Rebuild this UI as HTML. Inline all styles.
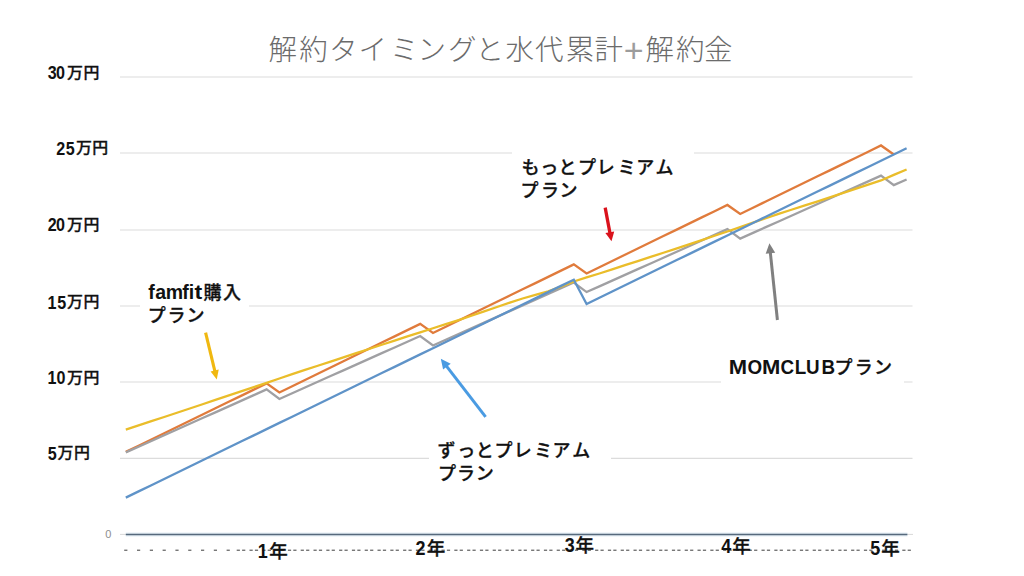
<!DOCTYPE html>
<html><head><meta charset="utf-8">
<style>
html,body{margin:0;padding:0;background:#fff;}
body{width:1024px;height:576px;overflow:hidden;position:relative;}
svg{position:absolute;left:0;top:0;}
</style></head><body>
<svg width="1024" height="576" viewBox="0 0 1024 576">
<rect width="1024" height="576" fill="#fff"/>
<g stroke="#dcdcdc" stroke-width="1.2"><line x1="120" y1="77" x2="912.5" y2="77"/><line x1="120" y1="153" x2="912.5" y2="153"/><line x1="120" y1="230" x2="912.5" y2="230"/><line x1="120" y1="306" x2="912.5" y2="306"/><line x1="120" y1="382" x2="912.5" y2="382"/><line x1="120" y1="458.4" x2="912.5" y2="458.4"/></g>
<line x1="120" y1="534.4" x2="913" y2="534.4" stroke="#d8d8d8" stroke-width="1"/>
<line x1="125.8" y1="534.4" x2="907.4" y2="534.4" stroke="#e4eef5" stroke-width="4"/>
<line x1="125.8" y1="534.4" x2="907.4" y2="534.4" stroke="#56697c" stroke-width="1.5"/>
<g fill="#6a6a6a"><rect x="124.2" y="549.6" width="3.2" height="1.3"/><rect x="137.0" y="549.6" width="3.2" height="1.3"/><rect x="149.8" y="549.6" width="3.2" height="1.3"/><rect x="162.6" y="549.6" width="3.2" height="1.3"/><rect x="175.4" y="549.6" width="3.2" height="1.3"/><rect x="188.2" y="549.6" width="3.2" height="1.3"/><rect x="201.0" y="549.6" width="3.2" height="1.3"/><rect x="213.8" y="549.6" width="3.2" height="1.3"/><rect x="226.6" y="549.6" width="3.2" height="1.3"/><rect x="236.7" y="549.6" width="3.2" height="1.3"/><rect x="242.1" y="549.6" width="3.2" height="1.3"/><rect x="249.5" y="549.6" width="3.2" height="1.3"/><rect x="254.9" y="549.6" width="3.2" height="1.3"/><rect x="262.3" y="549.6" width="3.2" height="1.3"/><rect x="267.7" y="549.6" width="3.2" height="1.3"/><rect x="275.1" y="549.6" width="3.2" height="1.3"/><rect x="280.5" y="549.6" width="3.2" height="1.3"/><rect x="287.9" y="549.6" width="3.2" height="1.3"/><rect x="293.3" y="549.6" width="3.2" height="1.3"/><rect x="300.7" y="549.6" width="3.2" height="1.3"/><rect x="306.1" y="549.6" width="3.2" height="1.3"/><rect x="313.5" y="549.6" width="3.2" height="1.3"/><rect x="318.9" y="549.6" width="3.2" height="1.3"/><rect x="326.3" y="549.6" width="3.2" height="1.3"/><rect x="331.7" y="549.6" width="3.2" height="1.3"/><rect x="339.1" y="549.6" width="3.2" height="1.3"/><rect x="344.5" y="549.6" width="3.2" height="1.3"/><rect x="351.9" y="549.6" width="3.2" height="1.3"/><rect x="357.3" y="549.6" width="3.2" height="1.3"/><rect x="364.7" y="549.6" width="3.2" height="1.3"/><rect x="370.1" y="549.6" width="3.2" height="1.3"/><rect x="377.5" y="549.6" width="3.2" height="1.3"/><rect x="382.9" y="549.6" width="3.2" height="1.3"/><rect x="390.3" y="549.6" width="3.2" height="1.3"/><rect x="395.7" y="549.6" width="3.2" height="1.3"/><rect x="403.1" y="549.6" width="3.2" height="1.3"/><rect x="408.5" y="549.6" width="3.2" height="1.3"/><rect x="415.9" y="549.6" width="3.2" height="1.3"/><rect x="421.3" y="549.6" width="3.2" height="1.3"/><rect x="428.7" y="549.6" width="3.2" height="1.3"/><rect x="434.1" y="549.6" width="3.2" height="1.3"/><rect x="441.5" y="549.6" width="3.2" height="1.3"/><rect x="446.9" y="549.6" width="3.2" height="1.3"/><rect x="454.3" y="549.6" width="3.2" height="1.3"/><rect x="459.7" y="549.6" width="3.2" height="1.3"/><rect x="467.1" y="549.6" width="3.2" height="1.3"/><rect x="472.5" y="549.6" width="3.2" height="1.3"/><rect x="479.9" y="549.6" width="3.2" height="1.3"/><rect x="485.3" y="549.6" width="3.2" height="1.3"/><rect x="492.7" y="549.6" width="3.2" height="1.3"/><rect x="498.1" y="549.6" width="3.2" height="1.3"/><rect x="505.5" y="549.6" width="3.2" height="1.3"/><rect x="510.9" y="549.6" width="3.2" height="1.3"/><rect x="518.3" y="549.6" width="3.2" height="1.3"/><rect x="523.7" y="549.6" width="3.2" height="1.3"/><rect x="531.1" y="549.6" width="3.2" height="1.3"/><rect x="536.5" y="549.6" width="3.2" height="1.3"/><rect x="543.9" y="549.6" width="3.2" height="1.3"/><rect x="549.3" y="549.6" width="3.2" height="1.3"/><rect x="556.7" y="549.6" width="3.2" height="1.3"/><rect x="562.1" y="549.6" width="3.2" height="1.3"/><rect x="569.5" y="549.6" width="3.2" height="1.3"/><rect x="574.9" y="549.6" width="3.2" height="1.3"/><rect x="582.3" y="549.6" width="3.2" height="1.3"/><rect x="587.7" y="549.6" width="3.2" height="1.3"/><rect x="595.1" y="549.6" width="3.2" height="1.3"/><rect x="600.5" y="549.6" width="3.2" height="1.3"/><rect x="607.9" y="549.6" width="3.2" height="1.3"/><rect x="613.3" y="549.6" width="3.2" height="1.3"/><rect x="620.7" y="549.6" width="3.2" height="1.3"/><rect x="626.1" y="549.6" width="3.2" height="1.3"/><rect x="633.5" y="549.6" width="3.2" height="1.3"/><rect x="638.9" y="549.6" width="3.2" height="1.3"/><rect x="646.3" y="549.6" width="3.2" height="1.3"/><rect x="651.7" y="549.6" width="3.2" height="1.3"/><rect x="659.1" y="549.6" width="3.2" height="1.3"/><rect x="664.5" y="549.6" width="3.2" height="1.3"/><rect x="671.9" y="549.6" width="3.2" height="1.3"/><rect x="677.3" y="549.6" width="3.2" height="1.3"/><rect x="684.7" y="549.6" width="3.2" height="1.3"/><rect x="690.1" y="549.6" width="3.2" height="1.3"/><rect x="697.5" y="549.6" width="3.2" height="1.3"/><rect x="702.9" y="549.6" width="3.2" height="1.3"/><rect x="710.3" y="549.6" width="3.2" height="1.3"/><rect x="715.7" y="549.6" width="3.2" height="1.3"/><rect x="723.1" y="549.6" width="3.2" height="1.3"/><rect x="728.5" y="549.6" width="3.2" height="1.3"/><rect x="735.9" y="549.6" width="3.2" height="1.3"/><rect x="741.3" y="549.6" width="3.2" height="1.3"/><rect x="748.7" y="549.6" width="3.2" height="1.3"/><rect x="754.1" y="549.6" width="3.2" height="1.3"/><rect x="761.5" y="549.6" width="3.2" height="1.3"/><rect x="766.9" y="549.6" width="3.2" height="1.3"/><rect x="774.3" y="549.6" width="3.2" height="1.3"/><rect x="779.7" y="549.6" width="3.2" height="1.3"/><rect x="787.1" y="549.6" width="3.2" height="1.3"/><rect x="792.5" y="549.6" width="3.2" height="1.3"/><rect x="799.9" y="549.6" width="3.2" height="1.3"/><rect x="805.3" y="549.6" width="3.2" height="1.3"/><rect x="812.7" y="549.6" width="3.2" height="1.3"/><rect x="818.1" y="549.6" width="3.2" height="1.3"/><rect x="825.5" y="549.6" width="3.2" height="1.3"/><rect x="830.9" y="549.6" width="3.2" height="1.3"/><rect x="838.3" y="549.6" width="3.2" height="1.3"/><rect x="843.7" y="549.6" width="3.2" height="1.3"/><rect x="851.1" y="549.6" width="3.2" height="1.3"/><rect x="856.5" y="549.6" width="3.2" height="1.3"/><rect x="863.9" y="549.6" width="3.2" height="1.3"/><rect x="869.3" y="549.6" width="3.2" height="1.3"/><rect x="876.7" y="549.6" width="3.2" height="1.3"/><rect x="882.1" y="549.6" width="3.2" height="1.3"/><rect x="889.5" y="549.6" width="3.2" height="1.3"/><rect x="894.9" y="549.6" width="3.2" height="1.3"/><rect x="902.3" y="549.6" width="3.2" height="1.3"/><rect x="907.7" y="549.6" width="3.2" height="1.3"/></g>
<g fill="none" stroke-width="2.3" stroke-linejoin="miter">
<polyline points="125.80,451.90 138.60,445.67 151.40,439.44 164.20,433.21 177.00,426.99 189.80,420.76 202.60,414.53 215.40,408.30 228.20,402.08 241.00,395.85 253.80,389.62 266.60,383.39 279.40,392.41 292.20,386.18 305.00,379.96 317.80,373.73 330.60,367.50 343.40,361.27 356.20,355.05 369.00,348.82 381.80,342.59 394.60,336.36 407.40,330.14 420.20,323.91 433.00,332.93 445.80,326.70 458.60,320.47 471.40,314.24 484.20,308.02 497.00,301.79 509.80,295.56 522.60,289.33 535.40,283.10 548.20,276.88 561.00,270.65 573.80,264.42 586.60,273.44 599.40,267.21 612.20,260.98 625.00,254.76 637.80,248.53 650.60,242.30 663.40,236.07 676.20,229.85 689.00,223.62 701.80,217.39 714.60,211.16 727.40,204.94 740.20,213.95 753.00,207.73 765.80,201.50 778.60,195.27 791.40,189.04 804.20,182.82 817.00,176.59 829.80,170.36 842.60,164.13 855.40,157.91 868.20,151.68 881.00,145.45 893.80,154.47" stroke="#e07b3c"/>
<polyline points="125.80,452.40 138.60,446.68 151.40,440.95 164.20,435.23 177.00,429.50 189.80,423.78 202.60,418.05 215.40,412.33 228.20,406.60 241.00,400.88 253.80,395.16 266.60,389.43 279.40,398.95 292.20,393.23 305.00,387.50 317.80,381.78 330.60,376.05 343.40,370.33 356.20,364.60 369.00,358.88 381.80,353.16 394.60,347.43 407.40,341.71 420.20,335.98 433.00,345.50 445.80,339.78 458.60,334.05 471.40,328.33 484.20,322.60 497.00,316.88 509.80,311.16 522.60,305.43 535.40,299.71 548.20,293.98 561.00,288.26 573.80,282.53 586.60,292.05 599.40,286.33 612.20,280.60 625.00,274.88 637.80,269.16 650.60,263.43 663.40,257.71 676.20,251.98 689.00,246.26 701.80,240.53 714.60,234.81 727.40,229.08 740.20,238.60 753.00,232.88 765.80,227.16 778.60,221.43 791.40,215.71 804.20,209.98 817.00,204.26 829.80,198.53 842.60,192.81 855.40,187.08 868.20,181.36 881.00,175.64 893.80,185.16 906.60,179.43" stroke="#a0a0a3"/>
<polyline points="125.80,429.70 138.60,425.46 151.40,421.21 164.20,416.97 177.00,412.73 189.80,408.48 202.60,404.23 215.40,399.94 228.20,395.65 241.00,391.37 253.80,387.08 266.60,382.79 279.40,378.50 292.20,374.21 305.00,369.96 317.80,365.76 330.60,361.56 343.40,357.36 356.20,353.17 369.00,348.97 381.80,344.77 394.60,340.57 407.40,336.43 420.20,332.34 433.00,328.24 445.80,324.14 458.60,320.05 471.40,315.72 484.20,311.37 497.00,307.02 509.80,302.67 522.60,298.48 535.40,294.92 548.20,291.36 561.00,286.66 573.80,281.48 586.60,277.47 599.40,273.49 612.20,269.35 625.00,265.21 637.80,261.06 650.60,256.92 663.40,252.77 676.20,248.63 689.00,244.38 701.80,240.08 714.60,235.77 727.40,231.47 740.20,227.09 753.00,222.69 765.80,218.28 778.60,213.88 791.40,209.75 804.20,205.66 817.00,201.56 829.80,197.37 842.60,193.14 855.40,188.92 868.20,184.69 881.00,180.43 893.80,174.83 906.60,169.53" stroke="#eabd2a"/>
<polyline points="125.80,497.63 138.60,491.40 151.40,485.18 164.20,478.95 177.00,472.72 189.80,466.49 202.60,460.27 215.40,454.04 228.20,447.81 241.00,441.58 253.80,435.36 266.60,429.13 279.40,422.90 292.20,416.67 305.00,410.45 317.80,404.22 330.60,397.99 343.40,391.76 356.20,385.54 369.00,379.31 381.80,373.08 394.60,366.85 407.40,360.63 420.20,354.40 433.00,348.17 445.80,341.94 458.60,335.72 471.40,329.49 484.20,323.26 497.00,317.03 509.80,310.80 522.60,304.58 535.40,298.35 548.20,292.12 561.00,285.89 573.80,279.67 586.60,303.93 599.40,297.70 612.20,291.47 625.00,285.25 637.80,279.02 650.60,272.79 663.40,266.56 676.20,260.34 689.00,254.11 701.80,247.88 714.60,241.65 727.40,235.43 740.20,229.20 753.00,222.97 765.80,216.74 778.60,210.52 791.40,204.29 804.20,198.06 817.00,191.83 829.80,185.61 842.60,179.38 855.40,173.15 868.20,166.92 881.00,160.70 893.80,154.47 906.60,148.24" stroke="#5f93c8"/>
</g>
<rect x="512" y="148" width="182" height="56" fill="#fff"/>
<rect x="140" y="278" width="109" height="50" fill="#fff"/>
<rect x="429" y="436" width="182" height="50" fill="#fff"/>
<rect x="721" y="352" width="183" height="32" fill="#fff"/>
<line x1="605.2" y1="207.6" x2="610.0" y2="233.2" stroke="#DA121C" stroke-width="3.3"/><polygon points="611.5,241.3 605.4,233.1 614.2,231.4" fill="#DA121C"/>
<line x1="205.6" y1="332.6" x2="214.9" y2="371.4" stroke="#F0B810" stroke-width="3.1"/><polygon points="216.8,379.4 210.6,371.4 218.7,369.5" fill="#F0B810"/>
<line x1="485.6" y1="416.8" x2="446.3" y2="365.9" stroke="#4A9BE2" stroke-width="3"/><polygon points="440.8,358.8 450.7,363.8 443.1,369.6" fill="#4A9BE2"/>
<line x1="777.4" y1="320.0" x2="770.3" y2="252.3" stroke="#808080" stroke-width="3"/><polygon points="769.4,243.3 775.2,252.8 765.7,253.7" fill="#808080"/>
<text fill="#6b6b6b"><tspan x="268.55" y="59.70" style="font-family:'Liberation Sans','Noto Sans CJK JP',sans-serif;font-weight:300;font-size:28.5px">解</tspan><tspan x="299.30" y="59.70" style="font-family:'Liberation Sans','Noto Sans CJK JP',sans-serif;font-weight:300;font-size:28.5px">約</tspan><tspan x="329.05" y="59.70" style="font-family:'Liberation Sans','Noto Sans CJK JP',sans-serif;font-weight:300;font-size:28.5px">タ</tspan><tspan x="358.50" y="59.70" style="font-family:'Liberation Sans','Noto Sans CJK JP',sans-serif;font-weight:300;font-size:28.5px">イ</tspan><tspan x="390.00" y="59.70" style="font-family:'Liberation Sans','Noto Sans CJK JP',sans-serif;font-weight:300;font-size:28.5px">ミ</tspan><tspan x="417.40" y="59.70" style="font-family:'Liberation Sans','Noto Sans CJK JP',sans-serif;font-weight:300;font-size:28.5px">ン</tspan><tspan x="448.00" y="59.70" style="font-family:'Liberation Sans','Noto Sans CJK JP',sans-serif;font-weight:300;font-size:28.5px">グ</tspan><tspan x="475.45" y="59.70" style="font-family:'Liberation Sans','Noto Sans CJK JP',sans-serif;font-weight:300;font-size:28.5px">と</tspan><tspan x="505.60" y="59.70" style="font-family:'Liberation Sans','Noto Sans CJK JP',sans-serif;font-weight:300;font-size:28.5px">水</tspan><tspan x="535.00" y="59.70" style="font-family:'Liberation Sans','Noto Sans CJK JP',sans-serif;font-weight:300;font-size:28.5px">代</tspan><tspan x="565.85" y="59.70" style="font-family:'Liberation Sans','Noto Sans CJK JP',sans-serif;font-weight:300;font-size:28.5px">累</tspan><tspan x="594.55" y="59.70" style="font-family:'Liberation Sans','Noto Sans CJK JP',sans-serif;font-weight:300;font-size:28.5px">計</tspan><tspan x="623.65" y="62.25" style="font-family:'Liberation Sans','Noto Sans CJK JP',sans-serif;font-weight:400;font-size:34px;fill:#9c9c9c">+</tspan><tspan x="645.55" y="59.70" style="font-family:'Liberation Sans','Noto Sans CJK JP',sans-serif;font-weight:300;font-size:28.5px">解</tspan><tspan x="676.10" y="59.70" style="font-family:'Liberation Sans','Noto Sans CJK JP',sans-serif;font-weight:300;font-size:28.5px">約</tspan><tspan x="703.90" y="59.70" style="font-family:'Liberation Sans','Noto Sans CJK JP',sans-serif;font-weight:300;font-size:28.5px">金</tspan></text>
<text fill="#111"><tspan x="47.74" y="78.95" style="font-family:'Liberation Sans','Noto Sans CJK JP',sans-serif;font-weight:700;font-size:17.5px" textLength="8.96" lengthAdjust="spacingAndGlyphs">3</tspan><tspan x="56.01" y="78.95" style="font-family:'Liberation Sans','Noto Sans CJK JP',sans-serif;font-weight:700;font-size:17.5px" textLength="8.96" lengthAdjust="spacingAndGlyphs">0</tspan><tspan x="67.03" y="77.60" style="font-family:'Liberation Sans','Noto Sans CJK JP',sans-serif;font-weight:500;font-size:15px;stroke:#111;stroke-width:0.3px" textLength="15.92" lengthAdjust="spacingAndGlyphs">万</tspan><tspan x="83.47" y="77.60" style="font-family:'Liberation Sans','Noto Sans CJK JP',sans-serif;font-weight:500;font-size:15px;stroke:#111;stroke-width:0.3px" textLength="15.92" lengthAdjust="spacingAndGlyphs">円</tspan></text>
<text fill="#111"><tspan x="56.34" y="154.50" style="font-family:'Liberation Sans','Noto Sans CJK JP',sans-serif;font-weight:700;font-size:17.5px" textLength="8.96" lengthAdjust="spacingAndGlyphs">2</tspan><tspan x="65.64" y="154.50" style="font-family:'Liberation Sans','Noto Sans CJK JP',sans-serif;font-weight:700;font-size:17.5px" textLength="8.96" lengthAdjust="spacingAndGlyphs">5</tspan><tspan x="76.03" y="152.90" style="font-family:'Liberation Sans','Noto Sans CJK JP',sans-serif;font-weight:500;font-size:15px;stroke:#111;stroke-width:0.3px" textLength="15.92" lengthAdjust="spacingAndGlyphs">万</tspan><tspan x="92.38" y="152.90" style="font-family:'Liberation Sans','Noto Sans CJK JP',sans-serif;font-weight:500;font-size:15px;stroke:#111;stroke-width:0.3px" textLength="15.92" lengthAdjust="spacingAndGlyphs">円</tspan></text>
<text fill="#111"><tspan x="47.64" y="231.20" style="font-family:'Liberation Sans','Noto Sans CJK JP',sans-serif;font-weight:700;font-size:17.5px" textLength="8.96" lengthAdjust="spacingAndGlyphs">2</tspan><tspan x="56.01" y="231.20" style="font-family:'Liberation Sans','Noto Sans CJK JP',sans-serif;font-weight:700;font-size:17.5px" textLength="8.96" lengthAdjust="spacingAndGlyphs">0</tspan><tspan x="67.03" y="229.60" style="font-family:'Liberation Sans','Noto Sans CJK JP',sans-serif;font-weight:500;font-size:15px;stroke:#111;stroke-width:0.3px" textLength="15.92" lengthAdjust="spacingAndGlyphs">万</tspan><tspan x="83.47" y="229.60" style="font-family:'Liberation Sans','Noto Sans CJK JP',sans-serif;font-weight:500;font-size:15px;stroke:#111;stroke-width:0.3px" textLength="15.92" lengthAdjust="spacingAndGlyphs">円</tspan></text>
<text fill="#111"><tspan x="47.58" y="309.00" style="font-family:'Liberation Sans','Noto Sans CJK JP',sans-serif;font-weight:700;font-size:17.5px" textLength="8.96" lengthAdjust="spacingAndGlyphs">1</tspan><tspan x="57.14" y="309.00" style="font-family:'Liberation Sans','Noto Sans CJK JP',sans-serif;font-weight:700;font-size:17.5px" textLength="8.96" lengthAdjust="spacingAndGlyphs">5</tspan><tspan x="67.03" y="307.40" style="font-family:'Liberation Sans','Noto Sans CJK JP',sans-serif;font-weight:500;font-size:15px;stroke:#111;stroke-width:0.3px" textLength="15.92" lengthAdjust="spacingAndGlyphs">万</tspan><tspan x="83.47" y="307.40" style="font-family:'Liberation Sans','Noto Sans CJK JP',sans-serif;font-weight:500;font-size:15px;stroke:#111;stroke-width:0.3px" textLength="15.92" lengthAdjust="spacingAndGlyphs">円</tspan></text>
<text fill="#111"><tspan x="47.38" y="384.20" style="font-family:'Liberation Sans','Noto Sans CJK JP',sans-serif;font-weight:700;font-size:17.5px" textLength="8.96" lengthAdjust="spacingAndGlyphs">1</tspan><tspan x="56.51" y="384.20" style="font-family:'Liberation Sans','Noto Sans CJK JP',sans-serif;font-weight:700;font-size:17.5px" textLength="8.96" lengthAdjust="spacingAndGlyphs">0</tspan><tspan x="67.03" y="382.60" style="font-family:'Liberation Sans','Noto Sans CJK JP',sans-serif;font-weight:500;font-size:15px;stroke:#111;stroke-width:0.3px" textLength="15.92" lengthAdjust="spacingAndGlyphs">万</tspan><tspan x="83.47" y="382.60" style="font-family:'Liberation Sans','Noto Sans CJK JP',sans-serif;font-weight:500;font-size:15px;stroke:#111;stroke-width:0.3px" textLength="15.92" lengthAdjust="spacingAndGlyphs">円</tspan></text>
<text fill="#111"><tspan x="47.64" y="459.65" style="font-family:'Liberation Sans','Noto Sans CJK JP',sans-serif;font-weight:700;font-size:17.5px" textLength="8.96" lengthAdjust="spacingAndGlyphs">5</tspan><tspan x="57.53" y="458.30" style="font-family:'Liberation Sans','Noto Sans CJK JP',sans-serif;font-weight:500;font-size:15px;stroke:#111;stroke-width:0.3px" textLength="15.92" lengthAdjust="spacingAndGlyphs">万</tspan><tspan x="73.97" y="458.30" style="font-family:'Liberation Sans','Noto Sans CJK JP',sans-serif;font-weight:500;font-size:15px;stroke:#111;stroke-width:0.3px" textLength="15.92" lengthAdjust="spacingAndGlyphs">円</tspan></text>
<text fill="#8e8e8e"><tspan x="105.30" y="537.80" style="font-family:'Liberation Sans','Noto Sans CJK JP',sans-serif;font-size:11px">0</tspan></text>
<text fill="#111"><tspan x="257.75" y="557.75" style="font-family:'Liberation Sans','Noto Sans CJK JP',sans-serif;font-weight:700;font-size:19.5px" textLength="9.99" lengthAdjust="spacingAndGlyphs">1</tspan><tspan x="269.25" y="557.75" style="font-family:'Liberation Sans','Noto Sans CJK JP',sans-serif;font-weight:500;font-size:18.5px;stroke:#111;stroke-width:0.3px">年</tspan></text>
<text fill="#111"><tspan x="415.41" y="554.85" style="font-family:'Liberation Sans','Noto Sans CJK JP',sans-serif;font-weight:700;font-size:19.5px" textLength="9.99" lengthAdjust="spacingAndGlyphs">2</tspan><tspan x="426.85" y="554.85" style="font-family:'Liberation Sans','Noto Sans CJK JP',sans-serif;font-weight:500;font-size:18.5px;stroke:#111;stroke-width:0.3px">年</tspan></text>
<text fill="#111"><tspan x="564.74" y="552.15" style="font-family:'Liberation Sans','Noto Sans CJK JP',sans-serif;font-weight:700;font-size:19.5px" textLength="9.99" lengthAdjust="spacingAndGlyphs">3</tspan><tspan x="575.45" y="552.15" style="font-family:'Liberation Sans','Noto Sans CJK JP',sans-serif;font-weight:500;font-size:18.5px;stroke:#111;stroke-width:0.3px">年</tspan></text>
<text fill="#111"><tspan x="721.37" y="552.85" style="font-family:'Liberation Sans','Noto Sans CJK JP',sans-serif;font-weight:700;font-size:19.5px" textLength="9.99" lengthAdjust="spacingAndGlyphs">4</tspan><tspan x="732.35" y="552.85" style="font-family:'Liberation Sans','Noto Sans CJK JP',sans-serif;font-weight:500;font-size:18.5px;stroke:#111;stroke-width:0.3px">年</tspan></text>
<text fill="#111"><tspan x="870.21" y="554.85" style="font-family:'Liberation Sans','Noto Sans CJK JP',sans-serif;font-weight:700;font-size:19.5px" textLength="9.99" lengthAdjust="spacingAndGlyphs">5</tspan><tspan x="881.15" y="554.85" style="font-family:'Liberation Sans','Noto Sans CJK JP',sans-serif;font-weight:500;font-size:18.5px;stroke:#111;stroke-width:0.3px">年</tspan></text>
<text fill="#111"><tspan x="521.60" y="174.05" style="font-family:'Liberation Sans','Noto Sans CJK JP',sans-serif;font-weight:500;font-size:18px;stroke:#111;stroke-width:0.3px">も</tspan><tspan x="540.20" y="174.05" style="font-family:'Liberation Sans','Noto Sans CJK JP',sans-serif;font-weight:500;font-size:18px;stroke:#111;stroke-width:0.3px">っ</tspan><tspan x="558.55" y="174.05" style="font-family:'Liberation Sans','Noto Sans CJK JP',sans-serif;font-weight:500;font-size:18px;stroke:#111;stroke-width:0.3px">と</tspan><tspan x="578.00" y="174.05" style="font-family:'Liberation Sans','Noto Sans CJK JP',sans-serif;font-weight:500;font-size:18px;stroke:#111;stroke-width:0.3px">プ</tspan><tspan x="596.65" y="174.05" style="font-family:'Liberation Sans','Noto Sans CJK JP',sans-serif;font-weight:500;font-size:18px;stroke:#111;stroke-width:0.3px">レ</tspan><tspan x="617.80" y="174.05" style="font-family:'Liberation Sans','Noto Sans CJK JP',sans-serif;font-weight:500;font-size:18px;stroke:#111;stroke-width:0.3px">ミ</tspan><tspan x="636.20" y="174.05" style="font-family:'Liberation Sans','Noto Sans CJK JP',sans-serif;font-weight:500;font-size:18px;stroke:#111;stroke-width:0.3px">ア</tspan><tspan x="655.40" y="174.05" style="font-family:'Liberation Sans','Noto Sans CJK JP',sans-serif;font-weight:500;font-size:18px;stroke:#111;stroke-width:0.3px">ム</tspan></text>
<text fill="#111"><tspan x="520.60" y="197.10" style="font-family:'Liberation Sans','Noto Sans CJK JP',sans-serif;font-weight:500;font-size:18px;stroke:#111;stroke-width:0.3px">プ</tspan><tspan x="540.95" y="197.10" style="font-family:'Liberation Sans','Noto Sans CJK JP',sans-serif;font-weight:500;font-size:18px;stroke:#111;stroke-width:0.3px">ラ</tspan><tspan x="559.55" y="197.10" style="font-family:'Liberation Sans','Noto Sans CJK JP',sans-serif;font-weight:500;font-size:18px;stroke:#111;stroke-width:0.3px">ン</tspan></text>
<text fill="#111"><tspan x="148.15" y="299.00" style="font-family:'Liberation Sans','Noto Sans CJK JP',sans-serif;font-weight:700;font-size:19.5px">f</tspan><tspan x="155.20" y="299.00" style="font-family:'Liberation Sans','Noto Sans CJK JP',sans-serif;font-weight:700;font-size:19.5px">a</tspan><tspan x="165.75" y="299.00" style="font-family:'Liberation Sans','Noto Sans CJK JP',sans-serif;font-weight:700;font-size:19.5px">m</tspan><tspan x="182.35" y="299.00" style="font-family:'Liberation Sans','Noto Sans CJK JP',sans-serif;font-weight:700;font-size:19.5px">f</tspan><tspan x="188.65" y="299.00" style="font-family:'Liberation Sans','Noto Sans CJK JP',sans-serif;font-weight:700;font-size:19.5px">i</tspan><tspan x="194.49" y="299.00" style="font-family:'Liberation Sans','Noto Sans CJK JP',sans-serif;font-weight:700;font-size:19.5px" textLength="7.71" lengthAdjust="spacingAndGlyphs">t</tspan><tspan x="203.55" y="298.65" style="font-family:'Liberation Sans','Noto Sans CJK JP',sans-serif;font-weight:500;font-size:18px;stroke:#111;stroke-width:0.3px">購</tspan><tspan x="223.10" y="298.65" style="font-family:'Liberation Sans','Noto Sans CJK JP',sans-serif;font-weight:500;font-size:18px;stroke:#111;stroke-width:0.3px">入</tspan></text>
<text fill="#111"><tspan x="147.80" y="321.80" style="font-family:'Liberation Sans','Noto Sans CJK JP',sans-serif;font-weight:500;font-size:18px;stroke:#111;stroke-width:0.3px">プ</tspan><tspan x="167.55" y="321.80" style="font-family:'Liberation Sans','Noto Sans CJK JP',sans-serif;font-weight:500;font-size:18px;stroke:#111;stroke-width:0.3px">ラ</tspan><tspan x="186.55" y="321.80" style="font-family:'Liberation Sans','Noto Sans CJK JP',sans-serif;font-weight:500;font-size:18px;stroke:#111;stroke-width:0.3px">ン</tspan></text>
<text fill="#111"><tspan x="437.60" y="456.85" style="font-family:'Liberation Sans','Noto Sans CJK JP',sans-serif;font-weight:500;font-size:18px;stroke:#111;stroke-width:0.3px">ず</tspan><tspan x="457.20" y="456.85" style="font-family:'Liberation Sans','Noto Sans CJK JP',sans-serif;font-weight:500;font-size:18px;stroke:#111;stroke-width:0.3px">っ</tspan><tspan x="475.75" y="456.85" style="font-family:'Liberation Sans','Noto Sans CJK JP',sans-serif;font-weight:500;font-size:18px;stroke:#111;stroke-width:0.3px">と</tspan><tspan x="494.60" y="456.85" style="font-family:'Liberation Sans','Noto Sans CJK JP',sans-serif;font-weight:500;font-size:18px;stroke:#111;stroke-width:0.3px">プ</tspan><tspan x="513.75" y="456.85" style="font-family:'Liberation Sans','Noto Sans CJK JP',sans-serif;font-weight:500;font-size:18px;stroke:#111;stroke-width:0.3px">レ</tspan><tspan x="534.30" y="456.85" style="font-family:'Liberation Sans','Noto Sans CJK JP',sans-serif;font-weight:500;font-size:18px;stroke:#111;stroke-width:0.3px">ミ</tspan><tspan x="552.40" y="456.85" style="font-family:'Liberation Sans','Noto Sans CJK JP',sans-serif;font-weight:500;font-size:18px;stroke:#111;stroke-width:0.3px">ア</tspan><tspan x="572.30" y="456.85" style="font-family:'Liberation Sans','Noto Sans CJK JP',sans-serif;font-weight:500;font-size:18px;stroke:#111;stroke-width:0.3px">ム</tspan></text>
<text fill="#111"><tspan x="437.90" y="480.00" style="font-family:'Liberation Sans','Noto Sans CJK JP',sans-serif;font-weight:500;font-size:18px;stroke:#111;stroke-width:0.3px">プ</tspan><tspan x="456.95" y="480.00" style="font-family:'Liberation Sans','Noto Sans CJK JP',sans-serif;font-weight:500;font-size:18px;stroke:#111;stroke-width:0.3px">ラ</tspan><tspan x="475.85" y="480.00" style="font-family:'Liberation Sans','Noto Sans CJK JP',sans-serif;font-weight:500;font-size:18px;stroke:#111;stroke-width:0.3px">ン</tspan></text>
<text fill="#111"><tspan x="728.83" y="373.80" style="font-family:'Liberation Sans','Noto Sans CJK JP',sans-serif;font-weight:700;font-size:20px" textLength="18.34" lengthAdjust="spacingAndGlyphs">M</tspan><tspan x="747.39" y="373.80" style="font-family:'Liberation Sans','Noto Sans CJK JP',sans-serif;font-weight:700;font-size:20px" textLength="14.63" lengthAdjust="spacingAndGlyphs">O</tspan><tspan x="762.02" y="373.80" style="font-family:'Liberation Sans','Noto Sans CJK JP',sans-serif;font-weight:700;font-size:20px" textLength="18.34" lengthAdjust="spacingAndGlyphs">M</tspan><tspan x="780.39" y="373.80" style="font-family:'Liberation Sans','Noto Sans CJK JP',sans-serif;font-weight:700;font-size:20px" textLength="13.59" lengthAdjust="spacingAndGlyphs">C</tspan><tspan x="794.73" y="373.80" style="font-family:'Liberation Sans','Noto Sans CJK JP',sans-serif;font-weight:700;font-size:20px" textLength="11.49" lengthAdjust="spacingAndGlyphs">L</tspan><tspan x="806.03" y="373.80" style="font-family:'Liberation Sans','Noto Sans CJK JP',sans-serif;font-weight:700;font-size:20px" textLength="13.59" lengthAdjust="spacingAndGlyphs">U</tspan><tspan x="821.43" y="373.80" style="font-family:'Liberation Sans','Noto Sans CJK JP',sans-serif;font-weight:700;font-size:20px" textLength="13.59" lengthAdjust="spacingAndGlyphs">B</tspan><tspan x="834.60" y="373.80" style="font-family:'Liberation Sans','Noto Sans CJK JP',sans-serif;font-weight:500;font-size:18px;stroke:#111;stroke-width:0.3px">プ</tspan><tspan x="854.85" y="373.80" style="font-family:'Liberation Sans','Noto Sans CJK JP',sans-serif;font-weight:500;font-size:18px;stroke:#111;stroke-width:0.3px">ラ</tspan><tspan x="873.95" y="373.80" style="font-family:'Liberation Sans','Noto Sans CJK JP',sans-serif;font-weight:500;font-size:18px;stroke:#111;stroke-width:0.3px">ン</tspan></text>
</svg>
</body></html>
